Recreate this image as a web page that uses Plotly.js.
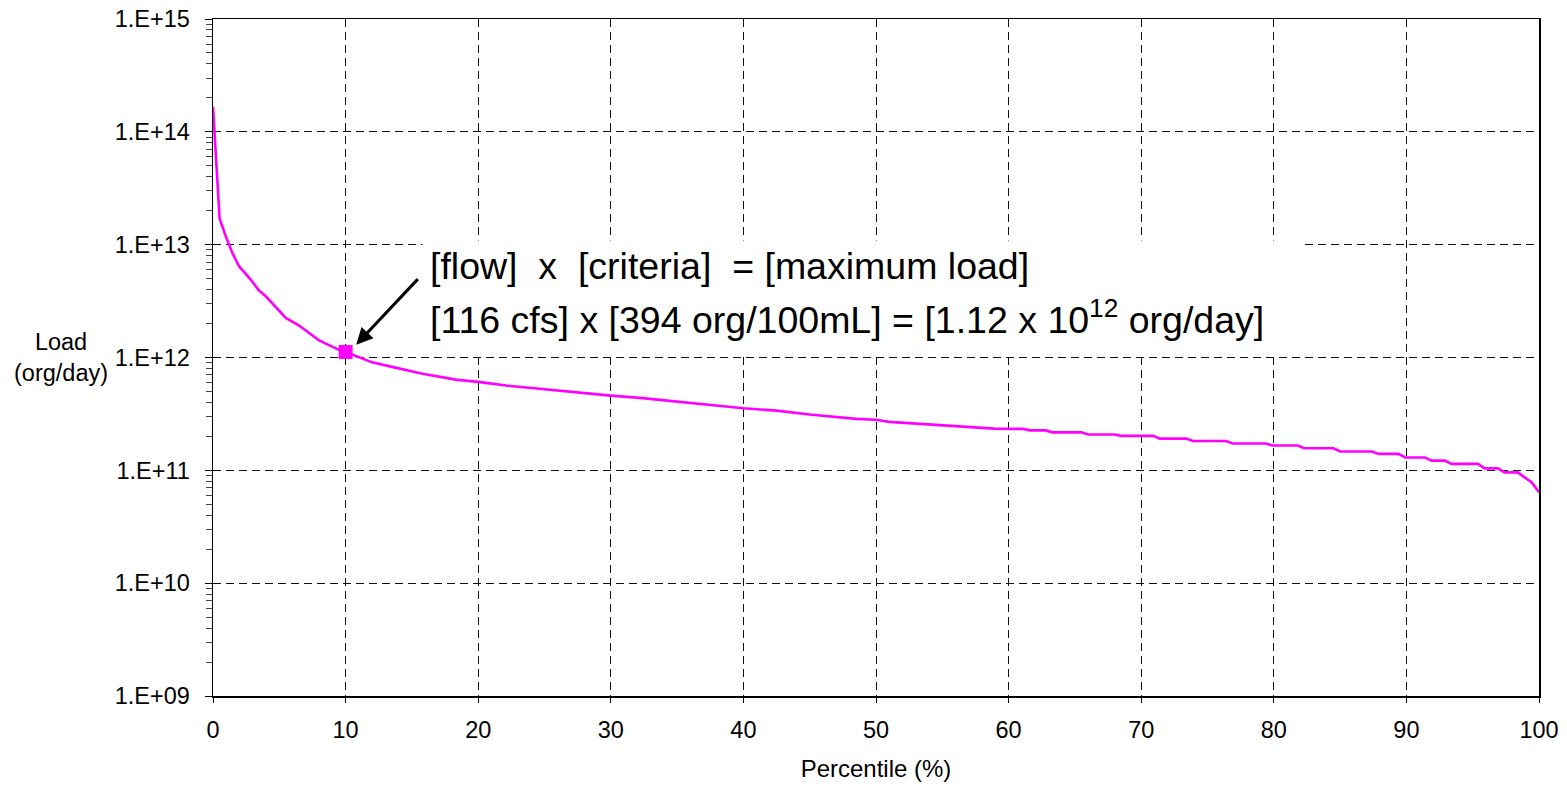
<!DOCTYPE html>
<html>
<head>
<meta charset="utf-8">
<script src="https://cdn.plot.ly/plotly-3.0.1.min.js"></script>
<style>html,body{margin:0;padding:0;background:#fff;}#chart{width:1567px;height:788px;}</style>
</head>
<body>
<div id="chart"></div>
<script>
// Load duration curve: percentile (%) vs load (org/day)
const percentile = [0, 0.5, 0.96, 1.46, 1.96, 2.84, 3.47, 3.98, 5.49, 6.49, 8.0, 9.5, 10.0, 10.5, 12.0, 13.5, 15.8, 18.3, 20.0, 22.1, 24.6, 27.1, 30.0, 32.2, 34.7, 36.7, 40.0, 42.5, 45.0, 48.5, 50.0, 51.0, 54.4, 56.8, 58.9, 61.1, 61.6, 62.8, 63.3, 65.5, 66.0, 68.0, 68.5, 70.9, 71.4, 73.4, 73.9, 76.4, 76.9, 79.4, 79.9, 81.8, 82.3, 84.5, 85.0, 87.4, 87.9, 89.4, 89.9, 91.4, 91.9, 92.9, 93.4, 95.4, 95.9, 96.9, 97.4, 98.4, 99.45, 100];
const load = [1.67e14, 1.70e13, 1.19e13, 8.45e12, 6.44e12, 4.91e12, 3.92e12, 3.49e12, 2.24e12, 1.92e12, 1.42e12, 1.17e12, 1.12e12, 1.06e12, 9.06e11, 8.26e11, 7.19e11, 6.37e11, 6.08e11, 5.64e11, 5.27e11, 4.92e11, 4.59e11, 4.39e11, 4.09e11, 3.90e11, 3.55e11, 3.38e11, 3.12e11, 2.86e11, 2.81e11, 2.69e11, 2.52e11, 2.43e11, 2.34e11, 2.33e11, 2.26e11, 2.26e11, 2.17e11, 2.17e11, 2.08e11, 2.08e11, 2.02e11, 2.02e11, 1.91e11, 1.91e11, 1.82e11, 1.82e11, 1.73e11, 1.73e11, 1.66e11, 1.66e11, 1.57e11, 1.57e11, 1.47e11, 1.47e11, 1.40e11, 1.40e11, 1.30e11, 1.30e11, 1.22e11, 1.22e11, 1.14e11, 1.14e11, 1.04e11, 1.04e11, 9.6e10, 9.6e10, 7.8e10, 6.4e10];

// Highlighted point (10th percentile, maximum load)
const pointX = [10];
const pointY = [1.12e12];

const yTickVals = [1e9, 1e10, 1e11, 1e12, 1e13, 1e14, 1e15];
const yTickText = ["1.E+09", "1.E+10", "1.E+11", "1.E+12", "1.E+13", "1.E+14", "1.E+15"];
const xTickVals = [0, 10, 20, 30, 40, 50, 60, 70, 80, 90, 100];

const xTitle = "Percentile (%)";
const yTitle = "Load<br>(org/day)";
const noteLine1 = "[flow]\u00a0\u00a0x\u00a0\u00a0[criteria]\u00a0\u00a0= [maximum load]";
const noteLine2 = "[116 cfs] x [394 org/100mL] = [1.12 x 10<sup>12</sup> org/day]";

const FONT = "Arial, 'Liberation Sans', sans-serif";
const TICK = 23.5;

const traces = [
  {x: percentile, y: load, type: 'scatter', mode: 'lines',
   line: {color: '#FF00FF', width: 2.6}, hoverinfo: 'skip', showlegend: false},
  {x: pointX, y: pointY, type: 'scatter', mode: 'markers',
   marker: {symbol: 'square', size: 14, color: '#FF00FF'}, showlegend: false}
];

const layout = {
  width: 1567, height: 788,
  margin: {l: 213, r: 28, t: 19, b: 92},
  paper_bgcolor: '#fff', plot_bgcolor: '#fff',
  font: {family: FONT, size: TICK, color: '#000'},
  showlegend: false,
  xaxis: {
    range: [0, 100], tickvals: xTickVals, ticks: 'outside', ticklen: 5, tickcolor: '#000',
    showline: true, linecolor: '#000', linewidth: 1.5, mirror: true,
    showgrid: true, gridcolor: '#111', gridwidth: 1, griddash: '8px,5px',
    zeroline: false, tickfont: {size: TICK}, ticklabelstandoff: 7,
    title: {text: xTitle, font: {size: 24}, standoff: 18}
  },
  yaxis: {
    type: 'log', range: [9, 15], tickvals: yTickVals, ticktext: yTickText,
    ticks: 'outside', ticklen: 7, tickcolor: '#000',
    minor: {ticks: 'outside', ticklen: 6, tickcolor: '#444', dtick: 'D1', showgrid: false},
    showline: true, linecolor: '#000', linewidth: 1.5, mirror: true,
    showgrid: true, gridcolor: '#111', gridwidth: 1, griddash: '8px,5px',
    zeroline: false, tickfont: {size: TICK}, ticklabelstandoff: 10
  },
  shapes: [
    {type: 'rect', xref: 'paper', yref: 'paper', x0: 0.1580, x1: 0.8235, y0: 0.5081, y1: 0.6728,
     fillcolor: '#fff', line: {width: 0}, layer: 'above'}
  ],
  annotations: [
    {xref: 'paper', yref: 'paper', x: -0.115, y: 0.50, xanchor: 'center', yanchor: 'middle',
     text: yTitle, showarrow: false, font: {size: TICK}, align: 'center'},
    {xref: 'paper', yref: 'paper', x: 0.162, y: 0.6005, xanchor: 'left', yanchor: 'bottom',
     text: noteLine1, showarrow: false, align: 'left', font: {size: 37.5}},
    {xref: 'paper', yref: 'paper', x: 0.162, y: 0.5207, xanchor: 'left', yanchor: 'bottom',
     text: noteLine2, showarrow: false, align: 'left', font: {size: 37.5}},
    {x: 10.8, y: 12.114, xref: 'x', yref: 'y', text: '', showarrow: true,
     ax: 63, ay: -67, arrowhead: 2, arrowsize: 1.1, arrowwidth: 3, arrowcolor: '#000'}
  ]
};

Plotly.newPlot('chart', traces, layout, {displayModeBar: false, staticPlot: true});
</script>
</body>
</html>
